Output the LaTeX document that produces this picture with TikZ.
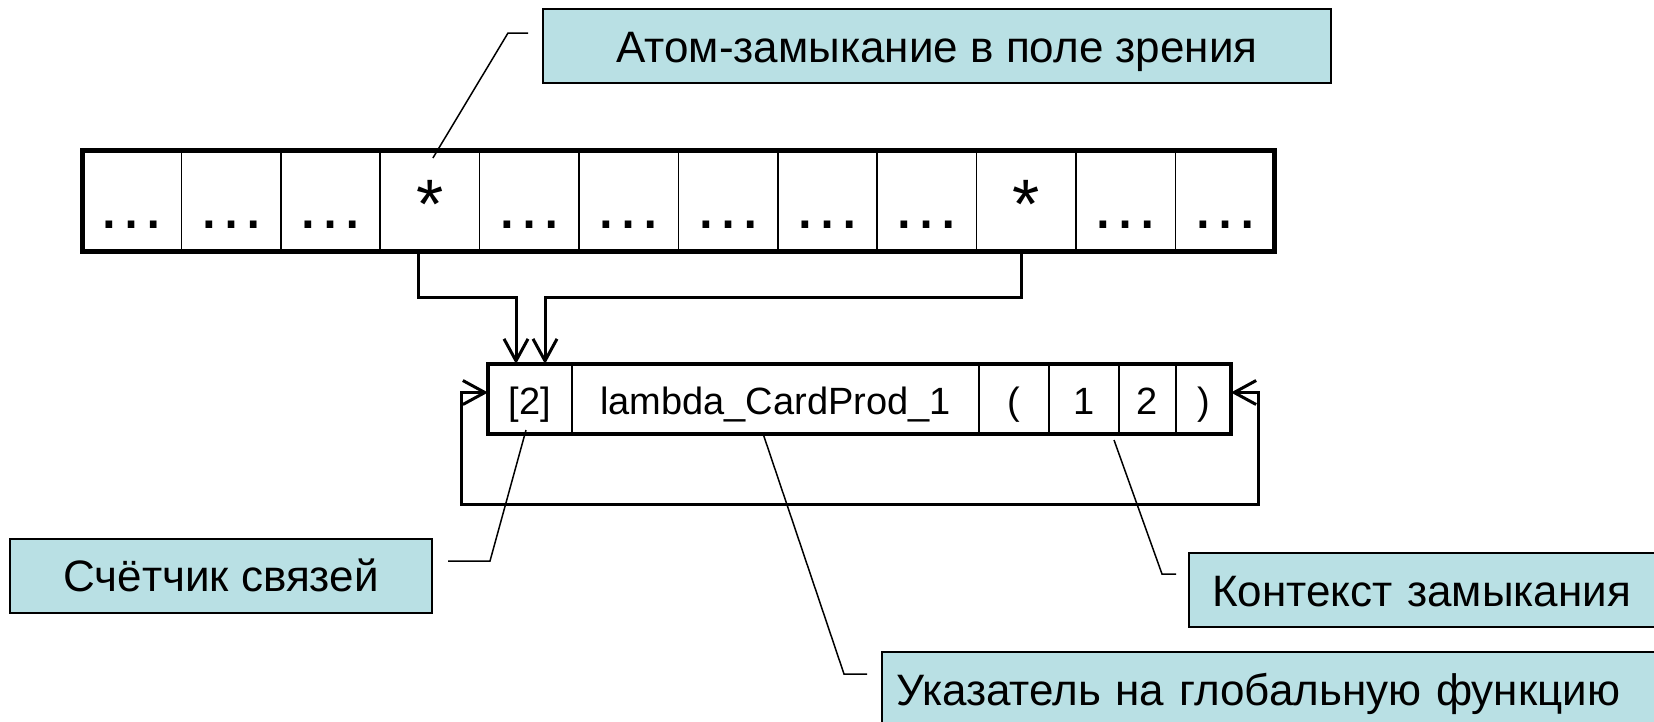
\documentclass[tikz,border=0pt]{standalone}
\usepackage{fontspec}
\setmainfont{Liberation Sans}
\usetikzlibrary{arrows.meta,positioning}

\definecolor{notefill}{RGB}{185,224,228}

\tikzset{
	note/.style={draw, line width=2pt, fill=notefill, inner sep=0pt, minimum height=74pt,
		text height=32pt, text depth=0pt, font=\fontsize{44}{50}\selectfont},
	cell/.style={draw, line width=1.5pt, inner sep=0pt, outer sep=0pt, minimum width=99.4pt,
		minimum height=101pt, text height=55pt, text depth=0pt, font=\fontsize{70}{72}\selectfont},
	slot/.style={draw, line width=1.5pt, inner sep=0pt, outer sep=0pt, minimum height=70pt,
		text height=30pt, text depth=0pt, font=\fontsize{38}{40}\selectfont},
	link/.style={line width=3pt, ->},
	leader/.style={line width=1.5pt},
}

\begin{document}
\begin{tikzpicture}[x=1pt, y=1pt, >={Straight Barb[length=22pt, width=24pt]}]

\def\cellw{99.4}
\def\ax{82}
\def\ay{-200.5}

\clip (0,0) rectangle (1654,-721);

% ARRAY
\foreach \t [count=\i] in {…,…,…,*,…,…,…,…,…,*,…,…}
	\node[cell] (a\i) at ({\ax+\cellw*(\i-0.5)},\ay) {\t};
\draw [line width=5pt] (a1.north west) rectangle (a12.south east);

% CLOSURE
\node[slot, minimum width=84pt] (b1) at (530,-399) {[2]};
\node[slot, minimum width=407pt, right=0pt of b1] (b2) {lambda\_CardProd\_1};
\node[slot, minimum width=70pt, right=0pt of b2] (b3) {(};
\node[slot, minimum width=70pt, right=0pt of b3] (b4) {1};
\node[slot, minimum width=57pt, right=0pt of b4] (b5) {2};
\node[slot, minimum width=55pt, right=0pt of b5] (b6) {)};
\draw [line width=4.5pt] (b1.north west) rectangle (b6.south east);

% LINKS
\draw [link] ([xshift=-11pt]a4.south) -- ++(0,-46) -| ([xshift=-14pt]b1.north);
\draw [link] ([xshift=-5pt]a10.south) -- ++(0,-46) -| ([xshift=15pt]b1.north);
\coordinate (loopl) at (461,-504);
\coordinate (loopr) at (1258,-504);
\draw [link, <->] ([yshift=6.5pt]b1.west) -| (loopl) -- (loopr) |- ([yshift=6.5pt]b6.east);

% NOTES
\node[note, minimum width=788pt] (nview) at (937,-46) {Атом-замыкание в поле зрения};
\node[note, minimum width=422pt] (ncount) at (221,-575.5) {Счётчик связей};
\node[note, anchor=west, inner xsep=23pt, text width=440pt, align=left] (nctx) at (1188,-590) {Контекст замыкания};
\node[note, anchor=west, inner xsep=14pt, text width=760pt, align=left] (nfun) at (881,-689) {Указатель на глобальную функцию};

\draw [leader] ([xshift=-14pt, yshift=13pt]nview.west) -- ++(-20,0) -- ([xshift=3pt, yshift=-8pt]a4.north);
\draw [leader] ([xshift=15pt, yshift=14.5pt]ncount.east) -- ++(42,0) -- ([xshift=-4pt, yshift=4pt]b1.south);
\draw [leader] ([xshift=-12pt, yshift=16pt]nctx.west) -- ++(-14,0) -- ([xshift=30pt, yshift=-6pt]b4.south);
\draw [leader] ([xshift=-14pt, yshift=15pt]nfun.west) -- ++(-23,0) -- ([xshift=-12pt, yshift=-1pt]b2.south);

\end{tikzpicture}
\end{document}
